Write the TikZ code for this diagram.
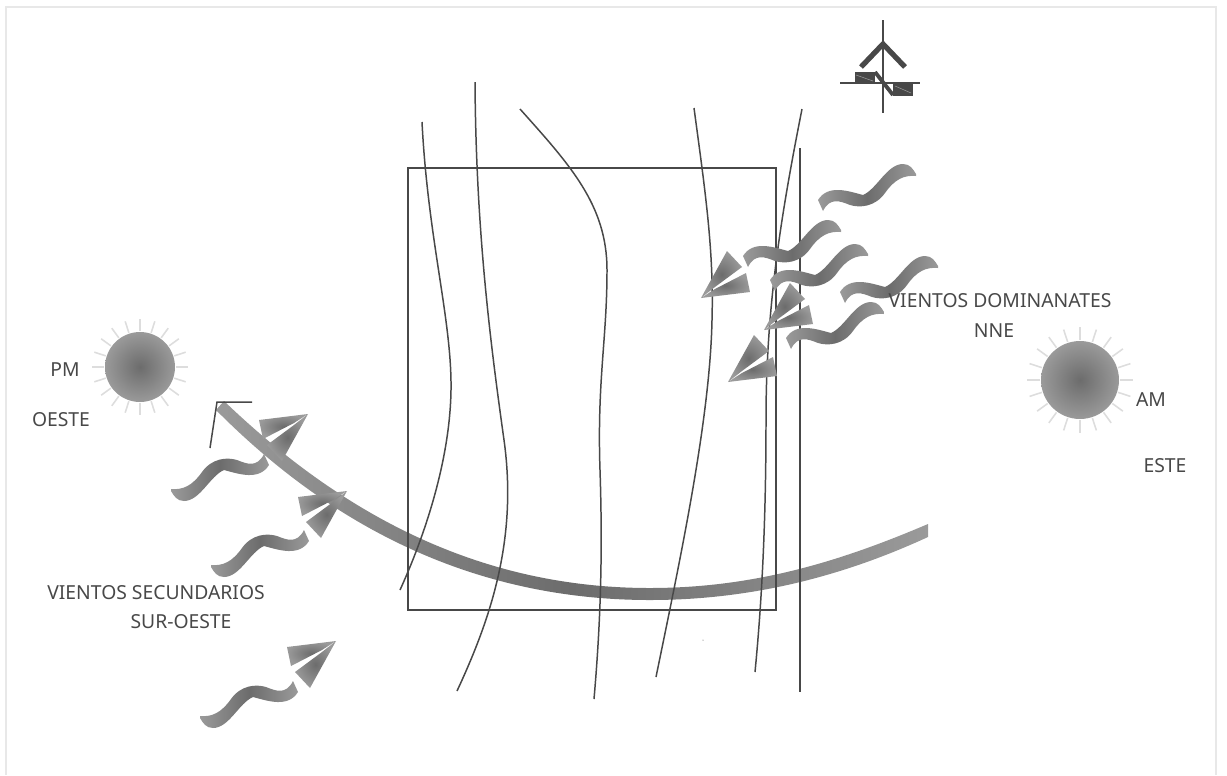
\documentclass[tikz,border=0pt]{standalone}
\usepackage{fontspec}
\setmainfont{Noto Sans}
\usepackage{xcolor}
\usetikzlibrary{shapes,arrows,positioning,calc}
\definecolor{inkgray}{HTML}{484848}
\definecolor{shadedark}{HTML}{6C6C6C}
\definecolor{shadelight}{HTML}{9A9A9A}
\definecolor{raygray}{HTML}{DDDDDD}
\definecolor{framegray}{HTML}{E8E8E8}
\tikzset{
    label/.style={text=inkgray, font=\fontsize{11}{13}\selectfont, inner sep=0pt},
    plan/.style={draw=inkgray, line width=0.85pt},
    sun/.style={circle, inner sep=0pt, inner color=shadedark, outer color=shadelight},
    ray/.style={draw=raygray, line width=0.9pt},
    % wind stroke, origin at its narrow left end
    pics/wave/.style={code={
        \path[left color=shadelight, right color=shadelight, middle color=shadedark]
            (-2,-5) .. controls (8,-21) and (28,-14) .. (43,-10)
            .. controls (57,-16) and (67,-41) .. (83,-41)
            .. controls (90,-41) and (93,-36) .. (96,-31) -- (96,-29)
            .. controls (84,-30) and (75,-26) .. (65,-12)
            .. controls (55,2) and (40,3) .. (30,0)
            .. controls (20,-4) and (10,-8) .. (3,6) -- cycle;
    }},
    % split arrow head, origin at its tip
    pics/windhead/.style={code={
        \path[inner color=shadedark, outer color=shadelight]
            (0,0) -- (26,-47) -- (41,-31) -- (14,-11) -- cycle;
        \path[inner color=shadedark, outer color=shadelight]
            (0,0) -- (14,-9) -- (45,-25) -- (49,-6) -- cycle;
    }},
}
\begin{document}
\begin{tikzpicture}[x=0.02cm, y=-0.02cm]
    \useasboundingbox (0,0) rectangle (1227,775);

    % Frame
    \draw[framegray, line width=0.9pt] (6,775) -- (6,7) -- (1216,7) -- (1216,775);

    % Sun path
    \path[left color=shadelight, right color=shadelight, middle color=shadedark]
        (224,401) .. controls (345,517) and (482,588) .. (650,588)
        .. controls (760,588) and (848,558) .. (928,524) -- (928,537)
        .. controls (852,572) and (760,600) .. (650,600)
        .. controls (478,600) and (335,530) .. (216,410) -- cycle;
    \draw[plan] (252,402) -- (217,402) -- (210,448);

    % Site and contour lines
    \draw[plan] (408,168) rectangle (776,610);
    \draw[plan] (800,148) -- (800,692);
    \draw[plan] (422,122) .. controls (428,240) and (452,320) .. (451,390)
        .. controls (450,460) and (425,535) .. (400,590);
    \draw[plan] (475,82) .. controls (476,230) and (490,340) .. (504,440)
        .. controls (518,540) and (490,620) .. (457,691);
    \draw[plan] (520,109) .. controls (570,165) and (607,205) .. (607,270)
        .. controls (607,340) and (597,380) .. (600,470)
        .. controls (603,560) and (600,630) .. (594,699);
    \draw[plan] (694,108) .. controls (705,190) and (714,250) .. (712,320)
        .. controls (710,420) and (680,560) .. (656,677);
    \draw[plan] (802,109) .. controls (780,220) and (766,310) .. (766,420)
        .. controls (766,520) and (762,600) .. (755,672);
    \fill[inkgray] (703,640) circle (0.5);

    % Winds from the NNE
    \pic (windA) at (820,205) {wave};
    \pic (windB) at (745,261) {wave};
    \pic (windC) at (772,285) {wave};
    \pic (windD) at (842,297) {wave};
    \pic (windE) at (788,343) {wave};
    \pic (headA) at (701,298) {windhead};
    \pic (headB) at (764,330) {windhead};
    \pic (headC) at (728,382) {windhead};

    % Winds from the south-west
    \pic[rotate=180] (windF) at (267,460) {wave};
    \pic[rotate=180] (windG) at (307,536) {wave};
    \pic[rotate=180] (windH) at (296,687) {wave};
    \pic[rotate=180] (headF) at (308,414) {windhead};
    \pic[rotate=180] (headG) at (347,491) {windhead};
    \pic[rotate=180] (headH) at (336,641) {windhead};

    % Suns
    \foreach \a in {0,18,...,342} {
        \draw[ray] (140,367) ++(\a:36) -- ++(\a:12);
        \draw[ray] (1080,380) ++(\a:40) -- ++(\a:13);
    }
    \node[sun, minimum size=1.4cm] (sunPM) at (140,367) {};
    \node[sun, minimum size=1.56cm] (sunAM) at (1080,380) {};

    % North sign
    \draw[inkgray, line width=0.8pt] (883,20) -- (883,113);
    \draw[inkgray, line width=0.8pt] (840,83) -- (920,83);
    \draw[inkgray, line width=3pt] (861,67) -- (883,44) -- (905,67);
    \fill[inkgray] (855,72) rectangle (875,83);
    \fill[inkgray] (893,84) rectangle (913,96);
    \draw[inkgray, line width=2.2pt] (875,72) -- (893,95);
    \draw[shadelight, line width=0.3pt] (856,75) -- (873,81);
    \draw[shadelight, line width=0.3pt] (895,86) -- (911,93);

    % Labels
    \node[label] (pm) at (65,370) {PM};
    \node[label] (oeste) at (61,420) {OESTE};
    \node[label] (am) at (1151,400) {AM};
    \node[label] (este) at (1165,466) {ESTE};
    \node[label] (dominant) at (1000,301) {VIENTOS DOMINANATES};
    \node[label] (nne) at (994,331) {NNE};
    \node[label] (secondary) at (156,593) {VIENTOS SECUNDARIOS};
    \node[label] (suroeste) at (181,622) {SUR-OESTE};
\end{tikzpicture}
\end{document}
